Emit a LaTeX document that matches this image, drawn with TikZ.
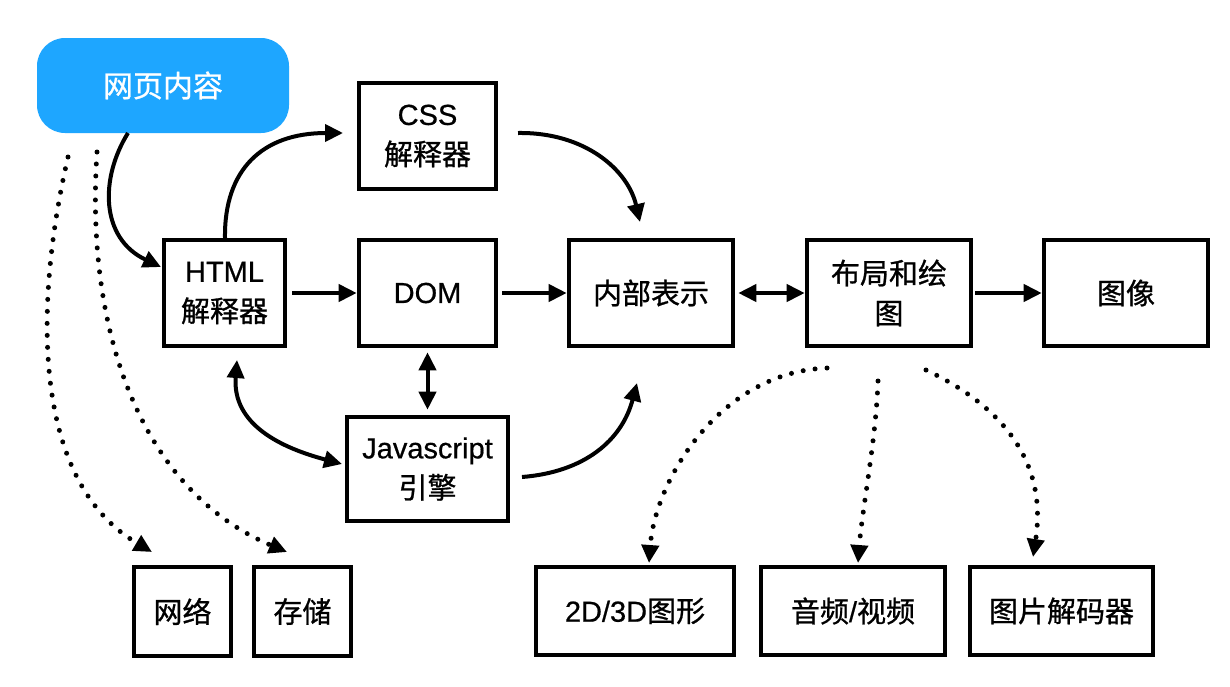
\documentclass[tikz,border=0pt]{standalone}
\usepackage{fontspec}
\setmainfont[FakeBold=0.6]{Liberation Sans}
\newfontfamily\cjk[FakeBold=0.9]{Noto Sans CJK SC}
\usetikzlibrary{arrows.meta}
\definecolor{webblue}{RGB}{30,166,255}
\begin{document}
\begin{tikzpicture}[x=1pt,y=-1pt,
  box/.style={draw=black, line width=4.6pt, align=center, inner sep=0pt,
    font=\fontsize{29}{40}\selectfont},
  conn/.style={line width=4pt, -{Triangle[length=18pt,width=17pt]}},
  dconn/.style={line width=4pt, {Triangle[length=18pt,width=17pt]}-{Triangle[length=18pt,width=17pt]}},
  dots/.style={line width=5pt, line cap=round, dash pattern=on 0pt off 12pt,
    -{Triangle[length=18pt,width=17pt]}},
]
\useasboundingbox[fill=white] (0,0) rectangle (1230,686);

% nodes
\node[fill=webblue, rounded corners=28pt, minimum width=252pt, minimum height=95pt,
  inner sep=0pt, text=white, font=\fontsize{30}{40}\selectfont] (web) at (163,85.5) {\cjk 网页内容};
\node[box, minimum width=137pt, minimum height=106pt] (css) at (427.5,136) {CSS\\{\cjk 解释器}};
\node[box, minimum width=121pt, minimum height=106pt] (html) at (224.5,293) {HTML\\{\cjk 解释器}};
\node[box, minimum width=137pt, minimum height=106pt] (dom) at (427.5,293) {DOM};
\node[box, minimum width=164pt, minimum height=106pt] (inner) at (651,293) {\cjk 内部表示};
\node[box, minimum width=164pt, minimum height=106pt] (layout) at (889,293) {\cjk 布局和绘\\\cjk 图};
\node[box, minimum width=164pt, minimum height=106pt] (image) at (1126,293) {\cjk 图像};
\node[box, minimum width=161pt, minimum height=104pt] (js) at (427.5,469) {Javascript\\{\cjk 引擎}};
\node[box, minimum width=97pt, minimum height=89pt] (net) at (182.5,611.5) {\cjk 网络};
\node[box, minimum width=97pt, minimum height=89pt] (store) at (302.5,611.5) {\cjk 存储};
\node[box, minimum width=198pt, minimum height=88pt] (g2d) at (635,611) {2D/3D{\cjk 图形}};
\node[box, minimum width=184pt, minimum height=88pt] (audio) at (853,611) {{\cjk 音频}/{\cjk 视频}};
\node[box, minimum width=183pt, minimum height=88pt] (imgdec) at (1061.5,611) {\cjk 图片解码器};

% connector end points
\coordinate (wS) at (128,133);
\coordinate (hW) at (161,267);
\coordinate (hN) at (225,238);
\coordinate (cW) at (343,133);
\coordinate (cE) at (518,133);
\coordinate (iN) at (640,222);
\coordinate (jE) at (522,477);
\coordinate (iS) at (637,383);
\coordinate (hS) at (237,360);
\coordinate (jW) at (342,464);
\coordinate (d1s) at (68,157);
\coordinate (netT) at (152,552);
\coordinate (d2s) at (97,152);
\coordinate (stT) at (287,552);
\coordinate (l1) at (827,368);
\coordinate (g2T) at (649,563);
\coordinate (l2) at (878,381);
\coordinate (auT) at (858,563);
\coordinate (l3) at (926,370);
\coordinate (imT) at (1033,557);

% solid connectors
\draw[conn] (wS) .. controls (100,178) and (100,238) .. (hW);
\draw[conn] (hN) .. controls (224,170) and (262,133) .. (cW);
\draw[conn] (cE) .. controls (585,132) and (628,170) .. (iN);
\draw[conn] (jE) .. controls (585,472) and (622,440) .. (iS);
\draw[dconn] (hS) .. controls (232,425) and (282,448) .. (jW);
\draw[conn] ([xshift=5pt]html.east) -- (dom.west);
\draw[conn] ([xshift=4pt]dom.east) -- (inner.west);
\draw[dconn] ([xshift=3pt]inner.east) -- (layout.west);
\draw[conn] ([xshift=2pt]layout.east) -- (image.west);
\draw[dconn] ([yshift=-4pt]dom.south) -- ([yshift=5pt]js.north);

% dotted connectors
\draw[dots] (d1s) .. controls (35,300) and (30,480) .. (netT);
\draw[dots] (d2s) .. controls (85,330) and (140,490) .. (stT);
\draw[dots] (l1) .. controls (720,372) and (655,480) .. (g2T);
\draw[dots] (l2) .. controls (876,440) and (862,510) .. (auT);
\draw[dots] (l3) .. controls (1000,405) and (1048,460) .. (imT);
\end{tikzpicture}
\end{document}
